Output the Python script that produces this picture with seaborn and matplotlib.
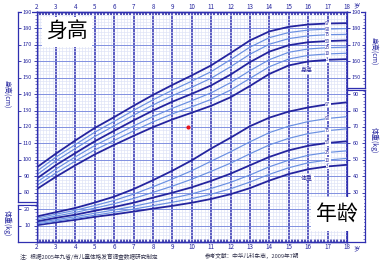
import numpy as np
import pandas as pd
import matplotlib
matplotlib.use("Agg")
import matplotlib.pyplot as plt
import matplotlib.transforms as mtrans
from matplotlib.ticker import MultipleLocator, FixedLocator
import seaborn as sns

# ---------------- data (China boys 2-18 y) ----------------
ages = list(range(2, 19))
pcts = ["3", "10", "25", "50", "75", "90", "97"]

h3  = [82.1, 89.7, 96.7, 103.3, 109.1, 114.6, 119.9, 124.6, 128.7, 132.9, 138.1, 145.0, 152.3, 157.5, 159.9, 160.9, 161.3]
h10 = [84.3, 92.0, 99.3, 106.0, 111.8, 117.6, 123.1, 128.0, 132.3, 136.8, 142.5, 149.6, 156.7, 161.4, 163.6, 164.5, 164.9]
h25 = [86.3, 94.4, 101.8, 108.7, 114.7, 120.6, 126.3, 131.4, 136.0, 140.8, 147.0, 154.3, 161.0, 165.5, 167.5, 168.3, 168.6]
h50 = [88.5, 96.8, 104.1, 111.3, 117.7, 124.0, 130.0, 135.4, 140.2, 145.3, 151.9, 159.5, 165.9, 169.8, 171.6, 172.3, 172.7]
h75 = [90.8, 99.4, 106.9, 114.2, 120.7, 127.2, 133.4, 139.1, 144.2, 149.7, 156.7, 164.3, 170.4, 173.8, 175.5, 176.2, 176.4]
h90 = [92.9, 101.7, 109.3, 116.8, 123.4, 130.1, 136.5, 142.4, 147.9, 153.7, 161.0, 168.6, 174.4, 177.5, 179.0, 179.6, 179.9]
h97 = [95.3, 103.8, 111.8, 119.4, 126.0, 132.9, 139.5, 145.6, 151.4, 157.5, 165.0, 172.7, 178.2, 181.0, 182.4, 183.0, 183.2]

w3  = [10.2, 11.9, 13.5, 15.3, 16.8, 18.5, 20.3, 22.0, 23.9, 26.2, 29.1, 32.8, 37.4, 41.4, 44.3, 46.0, 47.0]
w10 = [10.9, 12.7, 14.4, 16.3, 18.1, 20.0, 22.1, 24.2, 26.4, 29.1, 32.4, 36.5, 41.2, 45.2, 48.2, 49.9, 50.9]
w25 = [11.7, 13.6, 15.4, 17.5, 19.5, 21.7, 24.2, 26.7, 29.3, 32.6, 36.3, 40.8, 45.8, 49.8, 52.8, 54.5, 55.5]
w50 = [12.5, 14.7, 16.6, 19.0, 21.3, 23.9, 27.0, 30.0, 33.3, 37.2, 41.6, 46.7, 51.8, 55.8, 58.6, 60.3, 61.3]
w75 = [13.5, 15.8, 18.0, 20.6, 23.3, 26.5, 30.2, 34.0, 38.2, 43.0, 48.0, 53.7, 59.1, 63.1, 66.0, 67.8, 68.9]
w90 = [14.5, 16.9, 19.3, 22.2, 25.3, 29.1, 33.6, 38.3, 43.4, 49.2, 54.9, 61.0, 66.6, 70.5, 73.3, 75.2, 76.3]
w97 = [15.5, 18.1, 20.7, 24.0, 27.6, 32.2, 37.6, 43.4, 49.7, 56.9, 63.5, 70.5, 75.7, 79.4, 81.9, 83.8, 85.0]

height_ticks_left = [80, 90, 100, 110, 120, 130, 140, 150, 160, 170, 180, 190]
weight_ticks_left = [10, 20]
height_ticks_right = [150, 160, 170, 180, 190]
weight_ticks_right = [30, 40, 50, 60, 70, 80, 90]
age_ticks = list(range(2, 19))

red_point_age = [9.8]
red_point_height = [120]

# ---------------- styling ----------------
sns.set_theme(style="white")
plt.rcParams["font.family"] = ["Noto Sans CJK SC", "DejaVu Sans"]

DARK = "#24249e"
LIGHT = "#6a90e2"
SPINE = "#2f2fb0"
MINOR = "#dde2f7"

W, H = 385, 260
fig = plt.figure(figsize=(W / 100, H / 100), dpi=100)
fig.patch.set_facecolor("white")


def px(x0, y0, x1, y1):
    return [x0 / W, 1 - y1 / H, (x1 - x0) / W, (y1 - y0) / H]


PXCM = (242 - 12) / 140.0  # pixels per cm / kg

ax = fig.add_axes(px(36.5, 12, 347, 242))
ax.set_xlim(2, 18)
ax.set_ylim(50, 190)
axw = ax.twinx()
axw.set_ylim(0, 140)

# grid
ax.xaxis.set_major_locator(MultipleLocator(1))
ax.xaxis.set_minor_locator(MultipleLocator(1 / 6))
ax.yaxis.set_major_locator(MultipleLocator(10))
ax.yaxis.set_minor_locator(MultipleLocator(2))
ax.grid(which="minor", color=MINOR, lw=0.45)
ax.grid(which="major", axis="y", color="#8190e0", lw=0.7)
ax.grid(which="major", axis="x", color=SPINE, lw=1.1)
ax.set_axisbelow(True)

ax.set_xticks(age_ticks)
ax.set_xticklabels([str(a) for a in age_ticks])
ax.tick_params(axis="x", which="major", length=0, labelsize=4.5, labelcolor=DARK,
               top=True, labeltop=True, bottom=True, labelbottom=True, pad=1)
ax.tick_params(axis="x", which="minor", direction="in", length=2, width=1.1,
               color=DARK, top=True, bottom=True)
ax.tick_params(axis="y", which="both", left=False, right=False, labelleft=False, labelright=False)
axw.tick_params(axis="y", which="both", left=False, right=False, labelleft=False, labelright=False)
for a in (ax, axw):
    for s in a.spines.values():
        s.set_color(SPINE)
        s.set_linewidth(1.0)

# ---------------- curves ----------------
hdf = pd.DataFrame({"age": ages, "3": h3, "10": h10, "25": h25, "50": h50,
                    "75": h75, "90": h90, "97": h97}).melt(id_vars="age", var_name="pct", value_name="v")
wdf = pd.DataFrame({"age": ages, "3": w3, "10": w10, "25": w25, "50": w50,
                    "75": w75, "90": w90, "97": w97}).melt(id_vars="age", var_name="pct", value_name="v")
pal = {p: (DARK if p in ("3", "50", "97") else LIGHT) for p in pcts}
sizes = {p: (1.3 if p in ("3", "50", "97") else 0.85) for p in pcts}
sns.lineplot(data=hdf, x="age", y="v", hue="pct", palette=pal, size="pct", sizes=sizes,
             hue_order=pcts, size_order=pcts, ax=ax, legend=False)
sns.lineplot(data=wdf, x="age", y="v", hue="pct", palette=pal, size="pct", sizes=sizes,
             hue_order=pcts, size_order=pcts, ax=axw, legend=False)
ax.set_xlabel("")
ax.set_ylabel("")
axw.set_ylabel("")
ax.set_xlim(2, 18)

# percentile labels at 17 years
hseries = dict(zip(pcts, [h3, h10, h25, h50, h75, h90, h97]))
wseries = dict(zip(pcts, [w3, w10, w25, w50, w75, w90, w97]))
i17 = ages.index(17)
for p in pcts:
    ax.text(17, hseries[p][i17], p, fontsize=3.3, color=DARK, ha="center", va="center",
            bbox=dict(fc="white", ec="none", pad=0.3), zorder=5)
    axw.text(17, wseries[p][i17], p, fontsize=3.3, color=DARK, ha="center", va="center",
             bbox=dict(fc="white", ec="none", pad=0.3), zorder=5)
ax.text(15.95, 154.5, "身高", fontsize=4.3, color=DARK, ha="center", va="center",
        bbox=dict(fc="white", ec="none", pad=0.4), zorder=5)
axw.text(15.95, 39, "体重", fontsize=4.3, color=DARK, ha="center", va="center",
         bbox=dict(fc="white", ec="none", pad=0.4), zorder=5)

# red dot
sns.scatterplot(x=red_point_age, y=red_point_height, color="#e8141c", s=9, linewidth=0, ax=ax, zorder=6)

# "岁" next to 18
for yy in (5, 248):
    fig.text(357 / W, 1 - yy / H, "岁", fontsize=4.5, color=DARK, ha="center", va="center")


# ---------------- side strips ----------------
def strip(x0, y0, x1, y1, top_val, ticks, label_fn=str):
    sa = fig.add_axes(px(x0, y0, x1, y1))
    span = (y1 - y0) / PXCM
    sa.set_ylim(top_val - span, top_val)
    sa.set_xlim(0, 1)
    sa.set_facecolor("white")
    sa.set_xticks([])
    sa.yaxis.set_major_locator(FixedLocator(ticks))
    sa.yaxis.set_minor_locator(MultipleLocator(2))
    sa.tick_params(axis="y", which="major", direction="in", left=True, right=True,
                   length=2.5, width=0.6, color=DARK, labelleft=False, labelright=False)
    sa.tick_params(axis="y", which="minor", direction="in", left=False, right=True,
                   length=1.3, width=0.4, color=DARK)
    for s in sa.spines.values():
        s.set_color(SPINE)
        s.set_linewidth(0.9)
    tr = mtrans.blended_transform_factory(sa.transAxes, sa.transData)
    for t in ticks:
        sa.text(0.5, t, label_fn(t), transform=tr, fontsize=4.0, color=DARK,
                ha="center", va="center", bbox=dict(fc="white", ec="none", pad=0.2))
    return sa


strip(18, 12, 36.5, 202, 190, height_ticks_left)
strip(18, 205, 36.5, 242, (242 - 205) / PXCM, weight_ticks_left)
strip(347, 12, 365, 88, 190, height_ticks_right)
strip(347, 90, 365, 242, (242 - 90) / PXCM, weight_ticks_right)

# axis titles
fig.text(7 / W, 1 - 94 / H, "身高(cm)", rotation=-90, fontsize=5, color=DARK, ha="center", va="center")
fig.text(7 / W, 1 - 223 / H, "体重(kg)", rotation=-90, fontsize=5, color=DARK, ha="center", va="center")
fig.text(374 / W, 1 - 51 / H, "身高(cm)", rotation=-90, fontsize=5, color=DARK, ha="center", va="center")
fig.text(374 / W, 1 - 140 / H, "体重(kg)", rotation=-90, fontsize=5, color=DARK, ha="center", va="center")

# big labels
fig.text(67 / W, 1 - 32 / H, "身高", fontsize=15, color="black", ha="center", va="center",
         bbox=dict(fc="white", ec="none", pad=3))
fig.text(337 / W, 1 - 214 / H, "年龄", fontsize=15, color="black", ha="center", va="center",
         bbox=dict(fc="white", ec="none", pad=4))

# footnote
fig.text(20 / W, 1 - 256.5 / H, "注：根据2005年九省/市儿童体格发育调查数据研究制定", fontsize=4.1,
         color="#33334d", ha="left", va="center")
fig.text(205 / W, 1 - 256.5 / H, "参考文献：中华儿科杂志，2009年7期", fontsize=4.1,
         color="#33334d", ha="left", va="center")

fig.savefig("out.png", dpi=100, facecolor="white")
